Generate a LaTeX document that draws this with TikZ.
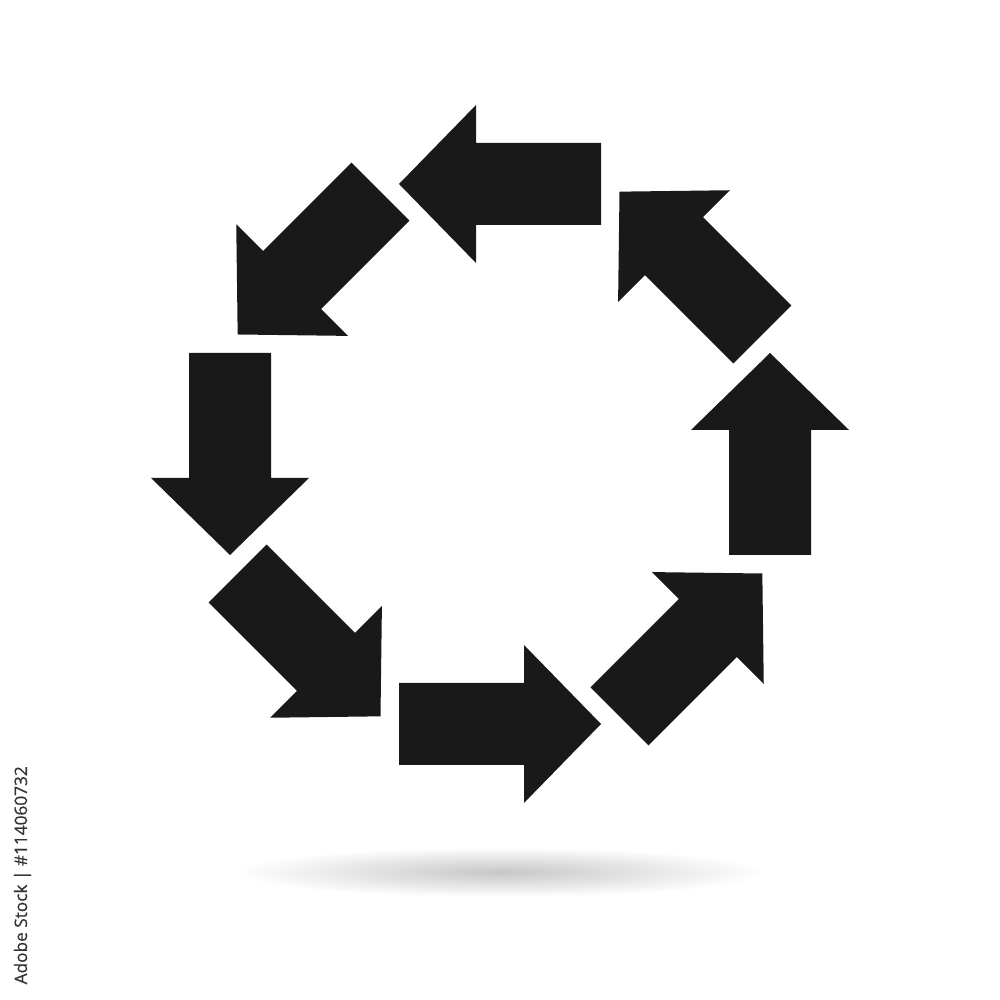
\documentclass[tikz,border=0pt]{standalone}
\usepackage{fontspec}
\newfontfamily\stampfont[FakeBold=0.6]{Open Sans}
\begin{document}
\begin{tikzpicture}[x=0.01cm,y=0.01cm,
  arrowfill/.style={fill=black!90,draw=none},
  stamp/.style={font=\stampfont\fontsize{4.9}{5}\selectfont,text=black!80,rotate=90,inner sep=0pt}]
\useasboundingbox (0,0) rectangle (1000,1000);
\fill[white] (0,0) rectangle (1000,1000);
% shadow
\shade[inner color=black!22,outer color=white] (500,128) ellipse (265 and 25);
% arrows around circle, center (500,546), radius 270
\foreach \a in {0,45,...,315}{
  \begin{scope}[shift={(500,546)},rotate=\a]
    \begin{scope}[shift={(270,0)},rotate=90]
      \fill[arrowfill] (101,0) -- (24,79) -- (24,41) -- (-101,41) -- (-101,-41) -- (24,-41) -- (24,-79) -- cycle;
    \end{scope}
  \end{scope}
}
\node[stamp,anchor=base west] (stamp) at (27,15) {Adobe Stock | \#114060732};
\end{tikzpicture}
\end{document}
